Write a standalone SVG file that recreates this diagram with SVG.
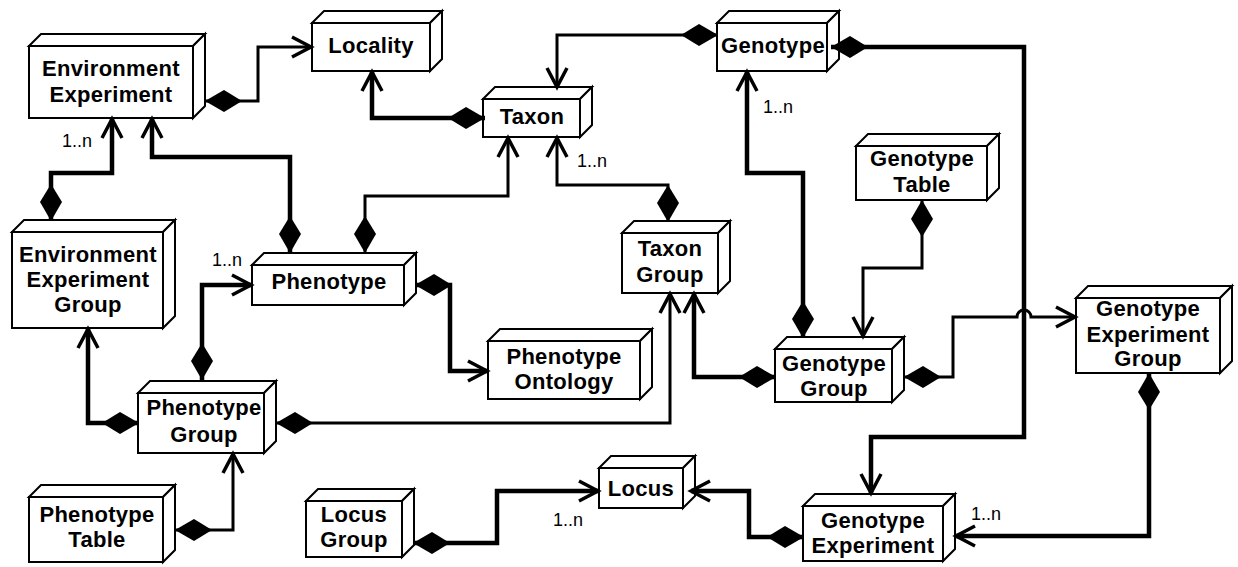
<svg xmlns="http://www.w3.org/2000/svg" width="1238" height="567" viewBox="0 0 1238 567">
<style>
.box polygon,.box rect{fill:#fff;stroke:#000;stroke-width:2}
.box text{font-family:"Liberation Sans",Arial,sans-serif;font-weight:bold;font-size:22px;letter-spacing:0.3px;text-anchor:middle;fill:#000}
.lbl{font-family:"Liberation Sans",Arial,sans-serif;font-size:18px;fill:#000}
.c{fill:none;stroke:#000;marker-start:url(#dia);marker-end:url(#arr)}
.t{stroke-width:3}
.k{stroke-width:4.5}
</style>
<defs>
<marker id="dia" markerUnits="userSpaceOnUse" markerWidth="42" markerHeight="26" viewBox="-2 -13 42 26" refX="0" refY="0" orient="auto" overflow="visible">
<path d="M0,0 L19,-11 L37,0 L19,11 Z" fill="#000"/>
</marker>
<marker id="arr" markerUnits="userSpaceOnUse" markerWidth="24" markerHeight="26" viewBox="-22 -13 24 26" refX="0" refY="0" orient="auto" overflow="visible">
<path d="M-19,-10 L0,0 L-19,10" fill="none" stroke="#000" stroke-width="3.5" stroke-linejoin="miter"/>
</marker>
</defs>

<g id="env-exp" class="box">
<polygon points="29,46 41,34 205,34 193,46"/><polygon points="193,46 205,34 205,106 193,118"/>
<rect x="29" y="46" width="164" height="72"/>
<text x="111" y="76">Environment</text><text x="111" y="102">Experiment</text>
</g>
<g id="locality" class="box">
<polygon points="312,23 324,11 442,11 430,23"/><polygon points="430,23 442,11 442,59 430,71"/>
<rect x="312" y="23" width="118" height="48"/>
<text x="371" y="53">Locality</text>
</g>
<g id="taxon" class="box">
<polygon points="483,99 495,87 592,87 580,99"/><polygon points="580,99 592,87 592,125 580,137"/>
<rect x="483" y="99" width="97" height="38"/>
<text x="532" y="124">Taxon</text>
</g>
<g id="genotype" class="box">
<polygon points="717,23 729,11 839,11 827,23"/><polygon points="827,23 839,11 839,59 827,71"/>
<rect x="717" y="23" width="110" height="48"/>
<text x="773" y="53">Genotype</text>
</g>
<g id="genotype-table" class="box">
<polygon points="856,146 868,134 999,134 987,146"/><polygon points="987,146 999,134 999,188 987,200"/>
<rect x="856" y="146" width="131" height="54"/>
<text x="922" y="166">Genotype</text><text x="922" y="192">Table</text>
</g>
<g id="env-exp-group" class="box">
<polygon points="12,232 24,220 175,220 163,232"/><polygon points="163,232 175,220 175,316 163,328"/>
<rect x="12" y="232" width="151" height="96"/>
<text x="88" y="262">Environment</text><text x="88" y="287">Experiment</text><text x="88" y="312">Group</text>
</g>
<g id="phenotype" class="box">
<polygon points="252,265 264,253 416,253 404,265"/><polygon points="404,265 416,253 416,293 404,305"/>
<rect x="252" y="265" width="152" height="40"/>
<text x="329" y="289">Phenotype</text>
</g>
<g id="taxon-group" class="box">
<polygon points="622,233 634,221 730,221 718,233"/><polygon points="718,233 730,221 730,281 718,293"/>
<rect x="622" y="233" width="96" height="60"/>
<text x="670" y="256">Taxon</text><text x="670" y="282">Group</text>
</g>
<g id="phenotype-ontology" class="box">
<polygon points="488,341 500,329 652,329 640,341"/><polygon points="640,341 652,329 652,387 640,399"/>
<rect x="488" y="341" width="152" height="58"/>
<text x="564" y="364">Phenotype</text><text x="564" y="389">Ontology</text>
</g>
<g id="genotype-group" class="box">
<polygon points="775,349 787,337 904,337 892,349"/><polygon points="892,349 904,337 904,390 892,402"/>
<rect x="775" y="349" width="117" height="53"/>
<text x="834" y="371">Genotype</text><text x="834" y="396">Group</text>
</g>
<g id="genotype-experiment-group" class="box">
<polygon points="1076,298 1088,286 1232,286 1220,298"/><polygon points="1220,298 1232,286 1232,361 1220,373"/>
<rect x="1076" y="298" width="144" height="75"/>
<text x="1148" y="316">Genotype</text><text x="1148" y="342">Experiment</text><text x="1148" y="366">Group</text>
</g>
<g id="phenotype-group" class="box">
<polygon points="138,393 150,381 276,381 264,393"/><polygon points="264,393 276,381 276,441 264,453"/>
<rect x="138" y="393" width="126" height="60"/>
<text x="204" y="415">Phenotype</text><text x="204" y="442">Group</text>
</g>
<g id="phenotype-table" class="box">
<polygon points="29,497 41,485 175,485 163,497"/><polygon points="163,497 175,485 175,550 163,562"/>
<rect x="29" y="497" width="134" height="65"/>
<text x="97" y="522">Phenotype</text><text x="97" y="547">Table</text>
</g>
<g id="locus-group" class="box">
<polygon points="306,501 318,489 414,489 402,501"/><polygon points="402,501 414,489 414,545 402,557"/>
<rect x="306" y="501" width="96" height="56"/>
<text x="354" y="522">Locus</text><text x="354" y="547">Group</text>
</g>
<g id="locus" class="box">
<polygon points="599,468 611,456 695,456 683,468"/><polygon points="683,468 695,456 695,496 683,508"/>
<rect x="599" y="468" width="84" height="40"/>
<text x="641" y="496">Locus</text>
</g>
<g id="genotype-experiment" class="box">
<polygon points="803,506 815,494 955,494 943,506"/><polygon points="943,506 955,494 955,549 943,561"/>
<rect x="803" y="506" width="140" height="55"/>
<text x="873" y="528">Genotype</text><text x="873" y="553">Experiment</text>
</g>

<g id="connectors">
<path class="c t" d="M205,101 H258 V47 H311"/>
<path class="c k" d="M485,118 H372 V72"/>
<path class="c t" d="M718,35 H557 V87"/>
<path class="c k" d="M831,47 H1024 V437 H871 V493"/>
<path class="c k" d="M51,221 V173 H112 V119"/>
<path class="c k" d="M290,253 V157 H152 V119"/>
<path class="c t" d="M365,253 V196 H508 V138"/>
<path class="c t" d="M668,222 V185 H557 V138"/>
<path class="c k" d="M202,380 V285 H251"/>
<path class="c k" d="M139,423 H88 V329"/>
<path class="c t" d="M276,423 H670 V294"/>
<path class="c k" d="M776,377 H694 V294"/>
<path class="c k" d="M415,285 H450 V371 H487"/>
<path class="c k" d="M803,338 V173 H747 V72"/>
<path class="c t" d="M922,200 V268 H863 V336"/>
<path class="c t" d="M904,377 H953 V317 H1017 A7,7 0 0 1 1031,317 H1075"/>
<path class="c k" d="M1149,373 V536 H956"/>
<path class="c t" d="M175,530 H233 V454"/>
<path class="c k" d="M413,543 H497 V491 H598"/>
<path class="c k" d="M804,537 H749 V491 H691"/>
</g>

<g id="labels">
<text class="lbl" x="62" y="147">1..n</text>
<text class="lbl" x="577" y="167">1..n</text>
<text class="lbl" x="763" y="113">1..n</text>
<text class="lbl" x="212" y="266">1..n</text>
<text class="lbl" x="553" y="526">1..n</text>
<text class="lbl" x="971" y="520">1..n</text>
</g>
</svg>
